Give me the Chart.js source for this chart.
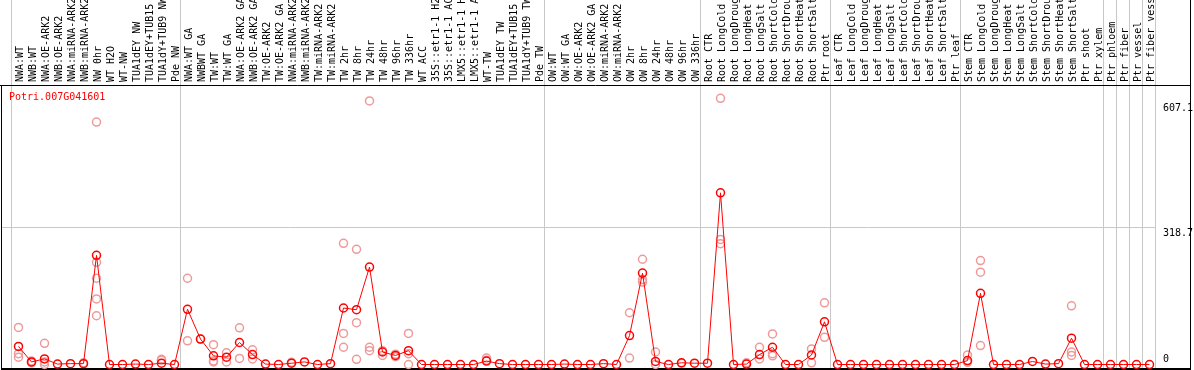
<!DOCTYPE html>
<html>
<head>
<meta charset="utf-8">
<script src="https://cdn.jsdelivr.net/npm/chart.js"></script>
<style>
html, body { margin: 0; padding: 0; background: #fff; }
canvas { display: block; }
</style>
</head>
<body>
<canvas id="exprChart" width="1194" height="370"></canvas>
<script>
// gene shown in the corner
var geneName = "Potri.007G041601";

// sample names (x axis, written upwards at the top)
var sampleLabels = [
	"NWA:WT", "NWB:WT", "NWA:OE-ARK2", "NWB:OE-ARK2", "NWA:miRNA-ARK2", "NWB:miRNA-ARK2",
	"NW 0hr", "WT H2O", "WT-NW", "TUA1dEY NW", "TUA1dEY+TUB15", "TUA1dY+TUB9 NW", "Pde NW",
	"NWA:WT GA", "NWBWT GA", "TW:WT", "TW:WT GA", "NWA:OE-ARK2 GA", "NWB:OE-ARK2 GA",
	"TW:OE-ARK2", "TW:OE-ARK2 GA", "NWA:miRNA-ARK2", "NWB:miRNA-ARK2", "TW:miRNA-ARK2",
	"TW:miRNA-ARK2", "TW 2hr", "TW 8hr", "TW 24hr", "TW 48hr", "TW 96hr", "TW 336hr",
	"WT ACC", "35S::etr1-1 H2", "35S::etr1-1 AC", "LMX5::etr1-1 H", "LMX5::etr1-1 A",
	"WT-TW", "TUA1dEY TW", "TUA1dEY+TUB15", "TUA1dY+TUB9 TW", "Pde TW",
	"OW:WT", "OW:WT GA", "OW:OE-ARK2", "OW:OE-ARK2 GA", "OW:miRNA-ARK2", "OW:miRNA-ARK2",
	"OW 2hr", "OW 8hr", "OW 24hr", "OW 48hr", "OW 96hr", "OW 336hr",
	"Root CTR", "Root LongCold", "Root LongDroug", "Root LongHeat", "Root LongSalt",
	"Root ShortCold", "Root ShortDrou", "Root ShortHeat", "Root ShortSalt", "Ptr root",
	"Leaf CTR", "Leaf LongCold", "Leaf LongDroug", "Leaf LongHeat", "Leaf LongSalt",
	"Leaf ShortCold", "Leaf ShortDrou", "Leaf ShortHeat", "Leaf ShortSalt", "Ptr leaf",
	"Stem CTR", "Stem LongCold", "Stem LongDroug", "Stem LongHeat", "Stem LongSalt",
	"Stem ShortCold", "Stem ShortDrou", "Stem ShortHeat", "Stem ShortSalt", "Ptr shoot",
	"Ptr xylem", "Ptr phloem", "Ptr fiber", "Ptr vessel", "Ptr fiber vess"
];

// mean expression per sample (red line)
var meanValues = [
	42, 6, 13, 1, 2, 2, 253, 0, 0, 1, 0, 3, 0,
	128, 59, 20, 17, 51, 23, 1, 0, 3, 6, 0, 2, 131, 127, 226, 29, 21, 32,
	0, 0, 0, 0, 0, 8, 2, 0, 0, 0,
	0, 1, 0, 0, 2, 0, 67, 212, 7, 0, 4, 3,
	3, 398, 0, 1, 23, 40, 0, 0, 22, 99,
	0, 0, 0, 0, 0, 0, 0, 0, 0, 0,
	9, 165, 0, 0, 0, 7, 1, 2, 61, 0, 0,
	0, 0, 0, 0
];

// single replicates per sample (light circles)
var replicates = [
	[86, 25, 17], [8, 4], [49, 6, 0], [], [], [4], [562, 237, 200, 152, 113], [], [], [], [], [12, 10], [],
	[200, 55], [59], [46, 8, 6], [27, 6], [85, 14], [34, 13], [], [], [5], [], [], [], [281, 72, 40], [267, 97, 12], [611, 40, 32], [21, 32], [24, 18], [72, 25, 0],
	[], [], [], [], [], [15, 10], [], [], [], [],
	[], [], [], [], [], [], [120, 15], [244, 197, 191], [29, 0], [], [3], [],
	[], [617, 290, 280], [], [4], [40, 13], [71, 25, 20], [], [], [36, 4], [143, 63],
	[], [], [], [], [], [], [], [], [], [],
	[22, 5], [241, 214, 44], [], [], [], [], [], [], [136, 29, 21], [], [],
	[], [], [], []
];

// right axis labels
var yTickValues = [607.1, 318.7, 0];
// index of first sample of every group (88 = right end)
var groupStarts = [0, 13, 41, 53, 63, 73, 84, 85, 86, 87, 88];

var labelFont = "10px 'DejaVu Sans Mono'";

// build one dataset per replicate number
var repDatasets = [];
for (var k = 0; k < 5; k++) {
	var values = [];
	for (var i = 0; i < replicates.length; i++) {
		values.push(replicates[i].length > k ? replicates[i][k] : null);
	}
	repDatasets.push({
		data: values,
		showLine: false,
		pointRadius: 4,
		pointBorderWidth: 1.5,
		pointBorderColor: "#ee9a9a",
		pointBackgroundColor: "rgba(0,0,0,0)",
		clip: false
	});
}

// draws separators, frame, title and right axis numbers
var framePlugin = {
	id: "frame",
	beforeDraw: function (chart) {
		var ctx = chart.ctx;
		var area = chart.chartArea;
		var xs = chart.scales.x;
		var ys = chart.scales.y;
		var half = (xs.getPixelForTick(1) - xs.getPixelForTick(0)) / 2;
		ctx.save();
		ctx.strokeStyle = "#c8c8c8";
		ctx.lineWidth = 1;
		ctx.beginPath();
		var gy = Math.round(ys.getPixelForValue(318.7)) + 0.5;
		ctx.moveTo(2, gy);
		ctx.lineTo(area.right, gy);
		groupStarts.forEach(function (g) {
			var px = g < sampleLabels.length ? xs.getPixelForTick(g) - half : xs.getPixelForTick(g - 1) + half;
			px = Math.round(px) - 0.5;
			ctx.moveTo(px, 0);
			ctx.lineTo(px, chart.height);
		});
		ctx.stroke();
		ctx.restore();
	},
	beforeDatasetsDraw: function (chart) {
		var ctx = chart.ctx;
		var area = chart.chartArea;
		ctx.save();
		ctx.strokeStyle = "#000";
		ctx.lineWidth = 1;
		ctx.beginPath();
		ctx.moveTo(0, area.top + 0.5);
		ctx.lineTo(1191, area.top + 0.5);
		ctx.moveTo(1.5, area.top);
		ctx.lineTo(1.5, chart.height);
		ctx.moveTo(1190.5, 0);
		ctx.lineTo(1190.5, chart.height);
		ctx.stroke();
		ctx.lineWidth = 2;
		ctx.beginPath();
		ctx.moveTo(1, 369);
		ctx.lineTo(1191, 369);
		ctx.stroke();
		ctx.restore();
	},
	afterDraw: function (chart) {
		var ctx = chart.ctx;
		var area = chart.chartArea;
		var ys = chart.scales.y;
		ctx.save();
		ctx.font = labelFont;
		ctx.fillStyle = "#ff0000";
		ctx.textBaseline = "top";
		ctx.fillText(geneName, 9, area.top + 7);
		ctx.fillStyle = "#000";
		yTickValues.forEach(function (v) {
			var py = ys.getPixelForValue(v);
			ctx.textBaseline = v === 0 ? "bottom" : "top";
			ctx.fillText(String(v), area.right + 7, v === 0 ? py : py + 1);
		});
		ctx.restore();
	}
};

var ctx = document.getElementById("exprChart").getContext("2d");
var exprChart = new Chart(ctx, {
	type: "line",
	data: {
		labels: sampleLabels,
		datasets: [{
			data: meanValues,
			borderColor: "#ff0000",
			borderWidth: 1,
			pointRadius: 4,
			pointBorderWidth: 1.5,
			pointBorderColor: "#ff0000",
			pointBackgroundColor: "rgba(0,0,0,0)",
			tension: 0,
			clip: false
		}].concat(repDatasets)
	},
	options: {
		responsive: false,
		devicePixelRatio: 1,
		animation: false,
		layout: { padding: { left: 12, right: 3, top: 0, bottom: 2.5 } },
		plugins: {
			legend: { display: false },
			tooltip: { enabled: false },
			title: { display: false }
		},
		scales: {
			x: {
				position: "top",
				offset: true,
				grid: { display: false, drawTicks: false },
				border: { display: false },
				ticks: {
					autoSkip: false,
					minRotation: 90,
					maxRotation: 90,
					padding: 3,
					labelOffset: 14,
					color: "#000",
					font: { family: "'DejaVu Sans Mono'", size: 10 }
				},
				afterFit: function (scale) { scale.height = 85; }
			},
			y: {
				position: "right",
				min: 0,
				max: 648,
				grid: { display: false },
				border: { display: false },
				ticks: { display: false },
				afterFit: function (scale) { scale.width = 35; }
			}
		}
	},
	plugins: [framePlugin]
});
</script>
</body>
</html>
